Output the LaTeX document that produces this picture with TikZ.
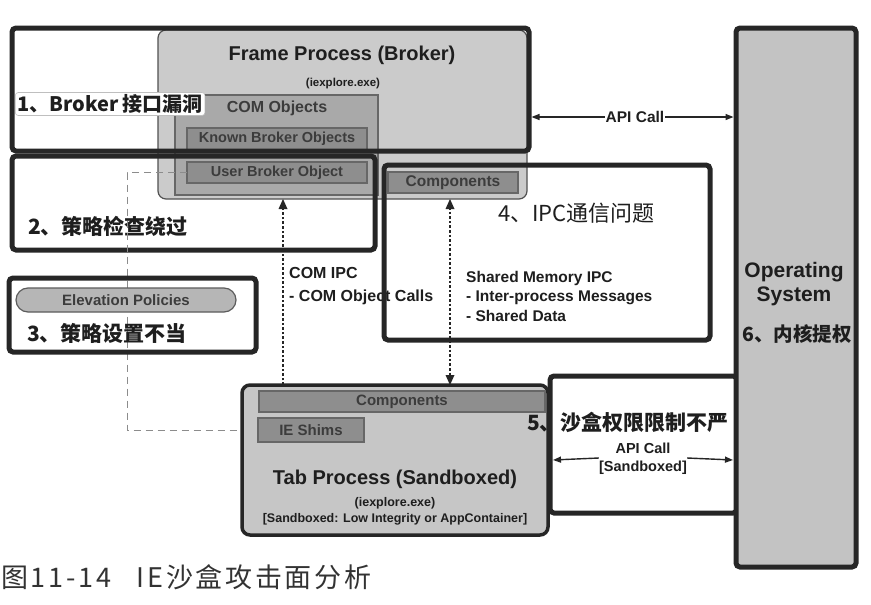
\documentclass[tikz,border=0pt]{standalone}
\usepackage{fontspec}
\setmainfont{Liberation Sans}
\newfontfamily\cjk{Noto Sans CJK SC}
\usetikzlibrary{arrows.meta,calc}
\definecolor{edge}{HTML}{262626}
\definecolor{framefill}{HTML}{CBCBCB}
\definecolor{comfill}{HTML}{A9A9A9}
\definecolor{darkfill}{HTML}{8E8E8E}
\definecolor{osfill}{HTML}{C3C3C3}
\definecolor{tabfill}{HTML}{C6C6C6}
\definecolor{txt}{HTML}{1E1E1E}
\definecolor{intxt}{HTML}{3C3C3C}
\definecolor{capt}{HTML}{333333}
\newcommand\fsz[2]{\fontsize{#1}{#2}\selectfont}
\tikzset{
  nw/.style={anchor=north west, inner sep=0pt, outer sep=0pt},
  thickbox/.style={nw, draw=edge, line width=5pt, rounded corners=4pt},
  procbox/.style={nw, draw=edge!80, line width=1.2pt, rounded corners=8pt},
  darkbox/.style={nw, draw=edge!70, line width=1.2pt, fill=darkfill, text=intxt, font=\bfseries\fsz{14.5}{16}},
  lbl/.style={inner sep=0pt, text=txt, font=\bfseries\fsz{16}{19}},
  cnlab/.style={inner sep=0pt, anchor=west, text=txt, font=\cjk\bfseries\fsz{21}{24}},
  arr/.style={draw=edge, line width=1.4pt, -{Triangle[length=8pt,width=6pt]}},
  dotarr/.style={draw=edge, line width=2.6pt, dash pattern=on 2.6pt off 2pt},
  dashline/.style={draw=black!45, line width=1pt, dash pattern=on 7pt off 5pt}
}
\begin{document}
\begin{tikzpicture}[x=1pt,y=-1pt]
\useasboundingbox (0,0) rectangle (871,605);
\fill[white] (0,0) rectangle (871,605);

% Frame process (broker)
\node[procbox, fill=framefill, minimum width=369pt, minimum height=169pt] (frame) at (158,30) {};
\node[lbl, font=\bfseries\fsz{20}{24}] (ftitle) at (342,55) {Frame Process (Broker)};
\node[lbl, font=\bfseries\fsz{11.5}{13}] (fexe) at (343,84) {(iexplore.exe)};
\node[nw, draw=edge!70, line width=1.2pt, fill=comfill, minimum width=203pt, minimum height=100pt] (com) at (175,95) {};
\node[lbl, text=intxt, font=\bfseries\fsz{16}{19}] (comlbl) at (277,108) {COM Objects};
\node[darkbox, minimum width=180pt, minimum height=22pt] (known) at (187,128) {Known Broker Objects};
\node[darkbox, minimum width=180pt, minimum height=21pt] (user) at (187,162) {User Broker Object};
\node[darkbox, minimum width=130pt, minimum height=21pt, font=\bfseries\fsz{15.5}{17}] (fcomp) at (388,172) {Components};

% attack-surface boxes 1 and 2
\node[thickbox, minimum width=517pt, minimum height=123pt] (b1) at (12,28) {};
\node[thickbox, minimum width=363pt, minimum height=94pt] (b2) at (12,156) {};
\node[cnlab, fill=white, draw=black!25, line width=0.6pt, rounded corners=3pt, inner sep=2pt, font=\cjk\bfseries\fsz{20}{24}] (l1) at (15,104) {1、Broker 接口漏洞};
\node[cnlab] (l2) at (28,226) {2、策略检查绕过};

% dashed policy line
\coordinate (dashx) at (127,0);
\draw[dashline] (user.west) -- (user.west -| dashx) -- (dashx |- 0,430) -- (258,430);

% box 3
\node[thickbox, minimum width=247pt, minimum height=74pt] (b3) at (9,278) {};
\node[nw, draw=edge!75, line width=1.2pt, fill=comfill!85, rounded corners=12pt, minimum width=220pt, minimum height=24pt, text=intxt, font=\bfseries\fsz{15}{17}] (elev) at (16,288) {Elevation Policies};
\node[cnlab] (l3) at (27,333) {3、策略设置不当};

% IPC texts
\node[lbl, anchor=west, align=left, font=\bfseries\fsz{16}{23}] (comipc) at (289,286) {COM IPC\\- COM Object Calls};
\node[lbl, anchor=west, align=left, font=\bfseries\fsz{15.5}{19.5}] (shm) at (466,296) {Shared Memory IPC\\- Inter-process Messages\\- Shared Data};

% box 4
\node[thickbox, minimum width=326pt, minimum height=175pt] (b4) at (384,165) {};
\node[cnlab, font=\cjk\fsz{22}{24}] (l4) at (498,213) {4、IPC通信问题};

% Tab process
\node[procbox, fill=tabfill, draw=edge, line width=3.5pt, minimum width=306pt, minimum height=150pt] (tab) at (242,385) {};
\node[darkbox, minimum width=286pt, minimum height=21pt, font=\bfseries\fsz{15}{17}] (tcomp) at (259,391) {Components};
\node[darkbox, minimum width=106pt, minimum height=24pt, font=\bfseries\fsz{15}{17}] (shims) at (258,418) {IE Shims};
\node[lbl, font=\bfseries\fsz{20}{24}] (ttitle) at (395,479) {Tab Process (Sandboxed)};
\node[lbl, align=center, font=\bfseries\fsz{12.5}{16}] (texe) at (395,511) {(iexplore.exe)\\{}[Sandboxed: Low Integrity or AppContainer]};

% box 5
\node[thickbox, minimum width=187pt, minimum height=137pt] (b5) at (550,376) {};

% Operating system
\node[thickbox, fill=osfill, minimum width=120pt, minimum height=539pt] (os) at (736,28) {};
\node[lbl, align=center, font=\bfseries\fsz{21}{24}] (ostxt) at (794,284) {Operating\\System};
\node[cnlab, anchor=center, font=\cjk\bfseries\fsz{19.5}{24}] (l6) at (797,334) {6、内核提权};
\node[cnlab] (l5) at (527,422) {5、沙盒权限限制不严};

% API calls
\node[lbl, font=\bfseries\fsz{15.5}{18}, fill=white, inner xsep=1pt] (api1) at (635,117) {API Call};
\draw[arr] (api1.west) -- ([xshift=2.5pt]b1.east |- api1.west);
\draw[arr] (api1.east) -- ([xshift=-2.5pt]os.west |- api1.east);
\node[lbl, align=center, font=\bfseries\fsz{14.5}{18}] (api2) at (643,459) {API Call\\{}[Sandboxed]};
\draw[arr] ([yshift=1pt]api2.west) -- ([xshift=3pt]b5.west |- 0,460);
\draw[arr] ([yshift=1pt]api2.east) -- ([xshift=-3pt]os.west |- 0,460);

% IPC dotted arrows
\coordinate (c1) at (283,0);
\coordinate (c2) at (450,0);
\draw[dotarr] (c1 |- tab.north) -- (c1 |- 0,207);
\draw[draw=none, fill=edge] (c1 |- frame.south) -- ++(-4.5,10) -- ++(9,0) -- cycle;
\draw[dotarr] (c2 |- 0,207) -- (c2 |- 0,376);
\draw[draw=none, fill=edge] (c2 |- frame.south) -- ++(-4.5,10) -- ++(9,0) -- cycle;
\draw[draw=none, fill=edge] (c2 |- tab.north) -- ++(-4.5,-10) -- ++(9,0) -- cycle;

% caption
\node[inner sep=0pt, anchor=west, text=capt, font=\cjk\fsz{27}{30}] (cap) at (1,577) {\addfontfeatures{LetterSpace=10}图11-14\hspace{26pt}IE沙盒攻击面分析};
\end{tikzpicture}
\end{document}
